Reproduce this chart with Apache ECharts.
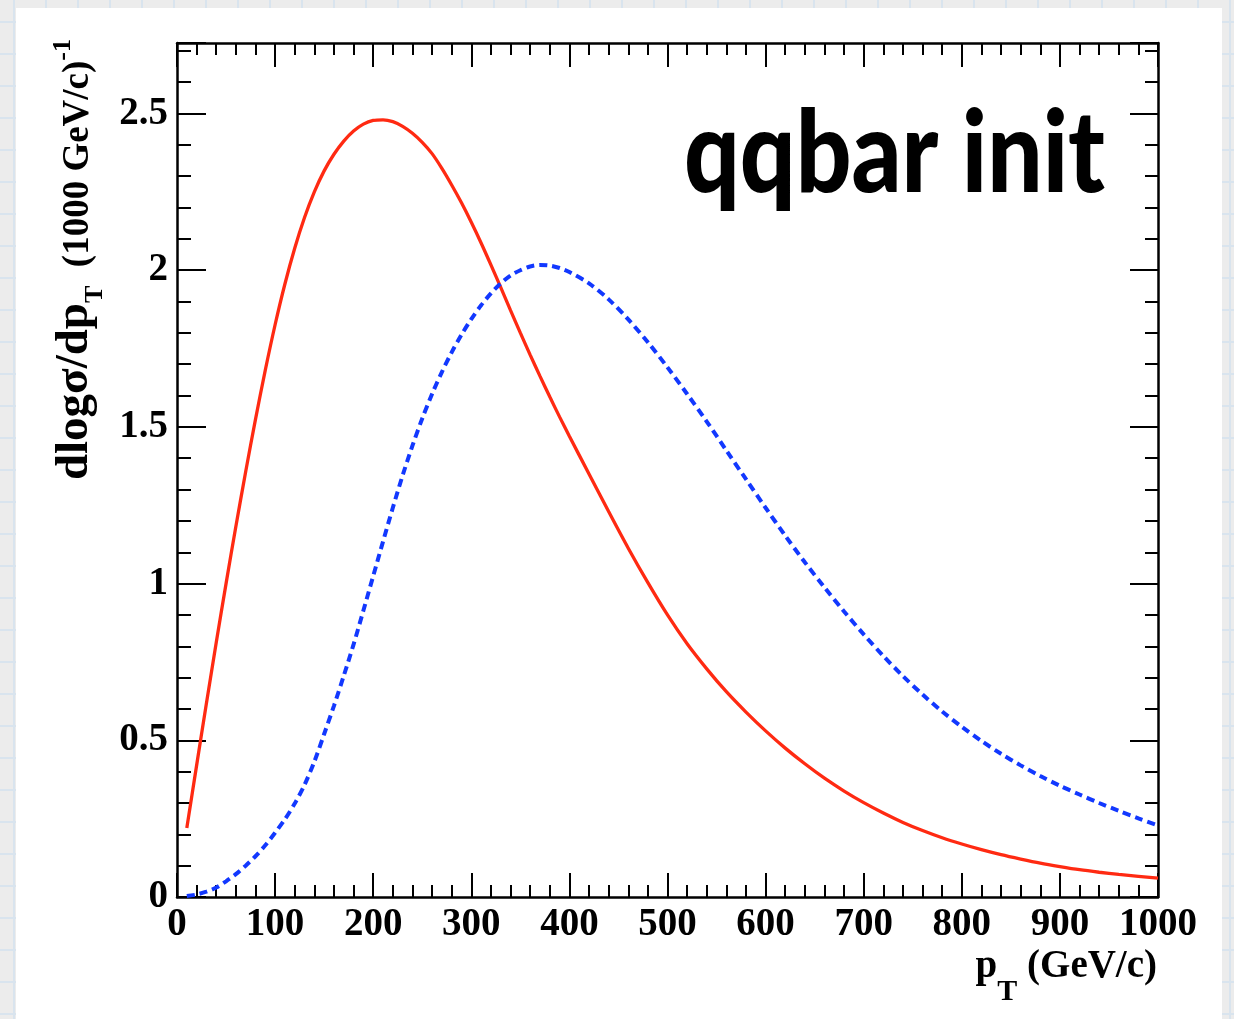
<!DOCTYPE html>
<html>
<head>
<meta charset="utf-8">
<title>qqbar init</title>
<script src="https://cdn.jsdelivr.net/npm/echarts@6/dist/echarts.min.js"></script>
<style>
  html, body {
    margin: 0;
    padding: 0;
    width: 1234px;
    height: 1019px;
    overflow: hidden;
    background-color: #ececec;
    background-image:
      linear-gradient(#d9e4ee 2px, transparent 2px),
      linear-gradient(90deg, #d9e4ee 2px, transparent 2px);
    background-size: 32px 32px;
    background-position: 13px 21px;
  }
  #card {
    position: absolute;
    left: 16px;
    top: 8px;
    width: 1206px;
    height: 1030px;
    background: #ffffff;
  }
  #chart {
    position: absolute;
    left: 0;
    top: 0;
    width: 1234px;
    height: 1019px;
  }
</style>
</head>
<body>
<div id="card"></div>
<div id="chart"></div>
<script>
// transverse momentum sampling points (GeV/c)
const pT = [
  10, 20, 30, 40, 50, 60, 70, 80, 90, 100,
  110, 120, 130, 140, 150, 160, 170, 180, 190, 200,
  210, 220, 230, 240, 250, 260, 270, 280, 290, 300,
  310, 320, 330, 340, 350, 360, 370, 380, 390, 400,
  420, 440, 460, 480, 500, 520, 540, 560, 580, 600,
  620, 640, 660, 680, 700, 720, 740, 760, 780, 800,
  820, 840, 860, 880, 900, 920, 940, 960, 980, 1000
];

// dlogσ/dpT, solid red curve
const solidCurve = [
  0.22, 0.42, 0.618, 0.812, 1.0, 1.182, 1.357, 1.524, 1.681, 1.826,
  1.956, 2.07, 2.168, 2.25, 2.317, 2.37, 2.412, 2.444, 2.466, 2.478,
  2.48, 2.474, 2.459, 2.437, 2.408, 2.372, 2.325, 2.272, 2.215, 2.153,
  2.087, 2.017, 1.945, 1.872, 1.8, 1.73, 1.662, 1.596, 1.532, 1.47,
  1.35, 1.23, 1.113, 1.003, 0.9, 0.808, 0.728, 0.655, 0.59, 0.53,
  0.475, 0.425, 0.379, 0.338, 0.301, 0.268, 0.238, 0.212, 0.189, 0.169,
  0.151, 0.135, 0.121, 0.108, 0.097, 0.087, 0.079, 0.072, 0.066, 0.06
];

// dlogσ/dpT, dashed blue curve
const dashedCurve = [
  0.003, 0.008, 0.017, 0.03, 0.05, 0.073, 0.1, 0.13, 0.165, 0.205,
  0.248, 0.298, 0.358, 0.432, 0.52, 0.61, 0.706, 0.806, 0.914, 1.024,
  1.134, 1.242, 1.345, 1.44, 1.527, 1.605, 1.675, 1.738, 1.794, 1.844,
  1.888, 1.926, 1.958, 1.983, 2.0, 2.012, 2.017, 2.015, 2.007, 1.994,
  1.958, 1.907, 1.843, 1.77, 1.69, 1.605, 1.517, 1.425, 1.333, 1.242,
  1.153, 1.068, 0.988, 0.911, 0.838, 0.769, 0.705, 0.646, 0.592, 0.543,
  0.498, 0.457, 0.42, 0.386, 0.355, 0.327, 0.3, 0.275, 0.251, 0.228
];

const xTickLabels = ['0', '100', '200', '300', '400', '500', '600', '700', '800', '900', '1000'];
const yTickLabels = ['0', '0.5', '1', '1.5', '2', '2.5'];

const SERIF = '"Liberation Serif", "Times New Roman", serif';

function labelFrom(list) {
  return function (v) {
    const s = String(+(+v).toFixed(3));
    return list.indexOf(s) >= 0 ? s : '';
  };
}

function tickAxis(opts) {
  return Object.assign({
    type: 'value',
    splitLine: { show: false },
    axisLine: { show: true, onZero: false, lineStyle: { color: '#000', width: 2.5 } },
    axisTick: { show: true, inside: true, lineStyle: { color: '#000', width: 2 } },
    minorTick: { show: true, splitNumber: 5, lineStyle: { color: '#000', width: 2 } },
    axisLabel: { show: false }
  }, opts);
}

const labelStyle = {
  fontFamily: SERIF,
  fontWeight: 'bold',
  fontSize: 39,
  color: '#000'
};

// width-fit for the big annotation
const NOTE_FONT = '900 115px Lato, "DejaVu Sans", sans-serif';
const measureCtx = document.createElement('canvas').getContext('2d');
measureCtx.font = NOTE_FONT;
const noteWidth = measureCtx.measureText('qqbar init').width;
const noteScale = 421 / noteWidth;

const chart = echarts.init(document.getElementById('chart'), null, { renderer: 'canvas' });

chart.setOption({
  animation: false,
  backgroundColor: 'transparent',
  grid: { left: 177, top: 43, width: 981, height: 854, containLabel: false, outerBoundsMode: 'none' },
  xAxis: [
    tickAxis({
      position: 'bottom', min: 0, max: 1000, interval: 100,
      axisTick: { show: true, inside: true, length: 24, lineStyle: { color: '#000', width: 2 } },
      minorTick: { show: true, splitNumber: 5, length: 12, lineStyle: { color: '#000', width: 2 } },
      axisLabel: Object.assign({ show: true, margin: 8, formatter: labelFrom(xTickLabels) }, labelStyle)
    }),
    tickAxis({
      position: 'top', min: 0, max: 1000, interval: 100,
      axisTick: { show: true, inside: true, length: 24, lineStyle: { color: '#000', width: 2 } },
      minorTick: { show: true, splitNumber: 5, length: 12, lineStyle: { color: '#000', width: 2 } }
    })
  ],
  yAxis: [
    tickAxis({
      position: 'left', min: 0, max: 2.725, interval: 0.5,
      axisTick: { show: true, inside: true, length: 29, lineStyle: { color: '#000', width: 2 } },
      minorTick: { show: true, splitNumber: 5, length: 14, lineStyle: { color: '#000', width: 2 } },
      axisLabel: Object.assign({ show: true, margin: 9, showMaxLabel: false, formatter: labelFrom(yTickLabels) }, labelStyle)
    }),
    tickAxis({
      position: 'right', min: 0, max: 2.725, interval: 0.5,
      axisTick: { show: true, inside: true, length: 28, lineStyle: { color: '#000', width: 2 } },
      minorTick: { show: true, splitNumber: 5, length: 13, lineStyle: { color: '#000', width: 2 } }
    })
  ],
  series: [
    {
      type: 'line',
      xAxisIndex: 0,
      yAxisIndex: 0,
      data: pT.map((x, i) => [x, solidCurve[i]]),
      smooth: 0.3,
      showSymbol: false,
      lineStyle: { color: '#ff2a12', width: 3.3 }
    },
    {
      type: 'line',
      xAxisIndex: 0,
      yAxisIndex: 0,
      data: pT.map((x, i) => [x, dashedCurve[i]]),
      smooth: 0.3,
      showSymbol: false,
      lineStyle: { color: '#1238ff', width: 4, type: [8, 5] }
    }
  ],
  graphic: [
    {
      type: 'text',
      x: 75,
      y: 39,
      rotation: Math.PI / 2,
      style: {
        text: '{m|dlogσ/dp}{s|T}{n|  (1000 GeV/c)}{u|-1}',
        align: 'right',
        verticalAlign: 'middle',
        rich: {
          m: { fontFamily: SERIF, fontWeight: 'bold', fontSize: 47, fill: '#000' },
          n: { fontFamily: SERIF, fontWeight: 'bold', fontSize: 37, fill: '#000', padding: [7, 0, 0, 0] },
          s: { fontFamily: SERIF, fontWeight: 'bold', fontSize: 26, fill: '#000', padding: [40, 0, 0, 0] },
          u: { fontFamily: SERIF, fontWeight: 'bold', fontSize: 26, fill: '#000', padding: [0, 0, 24, 0] }
        }
      }
    },
    {
      type: 'text',
      x: 1157,
      y: 967,
      style: {
        text: '{m|p}{s|T}{m| (GeV/c)}',
        align: 'right',
        verticalAlign: 'middle',
        rich: {
          m: { fontFamily: SERIF, fontWeight: 'bold', fontSize: 39, fill: '#000' },
          s: { fontFamily: SERIF, fontWeight: 'bold', fontSize: 30, fill: '#000', padding: [50, 0, 0, 0] }
        }
      }
    },
    {
      type: 'text',
      x: 684,
      y: 155,
      scaleX: noteScale,
      style: {
        text: 'qqbar init',
        font: NOTE_FONT,
        fill: '#000',
        align: 'left',
        verticalAlign: 'middle'
      }
    }
  ]
});
</script>
</body>
</html>
